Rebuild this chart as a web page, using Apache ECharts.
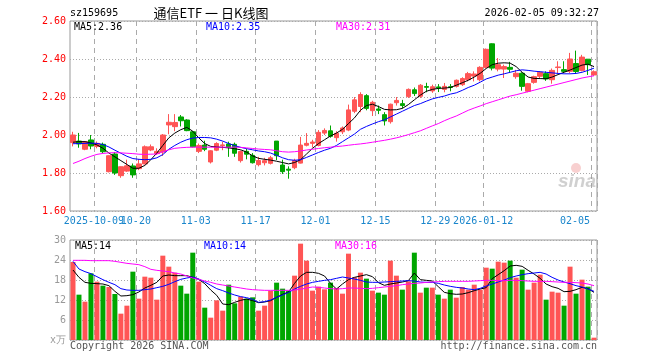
<!DOCTYPE html>
<html>
<head>
<meta charset="utf-8">
<script src="https://cdn.jsdelivr.net/npm/echarts@6/dist/echarts.min.js"></script>
<style>html,body{margin:0;padding:0;background:#fff;}#c{width:660px;height:360px;}</style>
</head>
<body>
<div id="c"></div>
<script>
const dates = ['2025-09-25','2025-09-26','2025-09-29','2025-09-30','2025-10-09','2025-10-10',
'2025-10-13','2025-10-14','2025-10-15','2025-10-16','2025-10-17',
'2025-10-20','2025-10-21','2025-10-22','2025-10-23','2025-10-24',
'2025-10-27','2025-10-28','2025-10-29','2025-10-30','2025-10-31',
'2025-11-03','2025-11-04','2025-11-05','2025-11-06','2025-11-07',
'2025-11-10','2025-11-11','2025-11-12','2025-11-13','2025-11-14',
'2025-11-17','2025-11-18','2025-11-19','2025-11-20','2025-11-21',
'2025-11-24','2025-11-25','2025-11-26','2025-11-27','2025-11-28',
'2025-12-01','2025-12-02','2025-12-03','2025-12-04','2025-12-05',
'2025-12-08','2025-12-09','2025-12-10','2025-12-11','2025-12-12',
'2025-12-15','2025-12-16','2025-12-17','2025-12-18','2025-12-19',
'2025-12-22','2025-12-23','2025-12-24','2025-12-25','2025-12-26',
'2025-12-29','2025-12-30','2025-12-31',
'2026-01-05','2026-01-06','2026-01-07','2026-01-08','2026-01-09',
'2026-01-12','2026-01-13','2026-01-14','2026-01-15','2026-01-16',
'2026-01-19','2026-01-20','2026-01-21','2026-01-22','2026-01-23',
'2026-01-26','2026-01-27','2026-01-28','2026-01-29','2026-01-30',
'2026-02-02','2026-02-03','2026-02-04','2026-02-05'];

const openP = [1.960,1.968,1.925,1.974,1.940,1.951,1.807,1.900,1.786,1.810,
1.837,1.823,1.848,1.921,1.902,1.910,2.053,2.044,2.095,2.079,
2.017,1.914,1.947,1.858,1.920,1.944,1.953,1.951,1.865,1.914,
1.893,1.844,1.854,1.851,1.968,1.842,1.820,1.828,1.852,1.946,
1.956,1.945,2.010,2.022,1.986,2.017,2.026,2.125,2.150,2.207,
2.128,2.137,2.107,2.070,2.170,2.165,2.202,2.238,2.204,2.255,
2.232,2.253,2.240,2.254,2.256,2.265,2.291,2.310,2.291,2.356,
2.480,2.347,2.347,2.356,2.307,2.325,2.230,2.277,2.309,2.323,
2.291,2.355,2.344,2.335,2.376,2.340,2.399,2.316];
const closeP = [2.000,1.953,1.965,1.942,1.956,1.912,1.891,1.800,1.833,1.838,
1.790,1.848,1.938,1.938,1.914,2.000,2.067,2.066,2.075,2.023,
1.938,1.945,1.925,1.917,1.955,1.948,1.935,1.904,1.913,1.899,
1.854,1.866,1.865,1.880,1.891,1.807,1.815,1.866,1.947,1.956,
1.963,2.014,2.024,1.993,2.009,2.037,2.132,2.185,2.213,2.140,
2.172,2.130,2.074,2.162,2.182,2.155,2.240,2.218,2.262,2.251,
2.254,2.248,2.256,2.250,2.288,2.297,2.323,2.321,2.356,2.451,
2.352,2.370,2.360,2.346,2.325,2.256,2.270,2.307,2.330,2.295,
2.340,2.358,2.335,2.400,2.334,2.410,2.370,2.333];
const lowP = [1.940,1.933,1.920,1.925,1.930,1.905,1.803,1.790,1.775,1.806,
1.775,1.815,1.845,1.915,1.895,1.890,2.004,2.020,2.045,2.020,
1.935,1.905,1.915,1.850,1.915,1.920,1.885,1.885,1.855,1.872,
1.850,1.835,1.840,1.845,1.868,1.795,1.770,1.820,1.850,1.940,
1.935,1.940,2.000,1.986,1.965,2.005,2.020,2.115,2.120,2.130,
2.100,2.110,2.050,2.060,2.155,2.140,2.195,2.205,2.195,2.225,
2.222,2.226,2.225,2.230,2.250,2.258,2.282,2.282,2.282,2.350,
2.340,2.335,2.300,2.326,2.296,2.233,2.225,2.270,2.300,2.285,
2.270,2.326,2.326,2.326,2.322,2.335,2.316,2.310];
const highP = [2.017,2.011,1.968,2.000,1.966,1.960,1.893,1.910,1.835,1.870,
1.850,1.874,1.945,1.950,1.930,2.005,2.110,2.110,2.105,2.083,
2.020,1.955,1.970,1.920,1.962,1.965,1.965,1.960,1.918,1.928,
1.905,1.885,1.880,1.890,1.968,1.870,1.835,1.875,1.990,2.010,
1.975,2.026,2.035,2.050,2.020,2.045,2.160,2.200,2.225,2.215,
2.180,2.155,2.120,2.165,2.200,2.185,2.245,2.250,2.268,2.275,
2.265,2.268,2.274,2.268,2.292,2.304,2.332,2.335,2.362,2.455,
2.482,2.405,2.370,2.385,2.343,2.330,2.274,2.312,2.335,2.335,
2.350,2.388,2.388,2.432,2.444,2.422,2.400,2.340];

const ma5 = [1.962,1.965,1.965,1.958,1.948,1.930,1.905,1.885,1.865,1.845,
1.825,1.825,1.840,1.870,1.905,1.945,1.985,2.010,2.028,2.040,
2.020,1.985,1.955,1.940,1.937,1.935,1.932,1.928,1.922,1.910,
1.890,1.877,1.872,1.868,1.862,1.855,1.848,1.855,1.870,1.900,
1.930,1.955,1.975,1.995,2.010,2.030,2.060,2.090,2.130,2.155,
2.162,2.150,2.135,2.132,2.133,2.140,2.160,2.185,2.210,2.230,
2.240,2.245,2.247,2.250,2.262,2.275,2.288,2.305,2.325,2.350,
2.370,2.378,2.380,2.378,2.360,2.330,2.305,2.298,2.297,2.296,
2.305,2.318,2.330,2.342,2.355,2.368,2.373,2.360];
const ma10 = [1.954,1.955,1.956,1.957,1.956,1.950,1.937,1.920,1.904,1.888,
1.876,1.872,1.870,1.872,1.880,1.897,1.925,1.945,1.962,1.975,
1.984,1.987,1.987,1.985,1.978,1.968,1.955,1.944,1.935,1.928,
1.922,1.916,1.912,1.905,1.893,1.880,1.870,1.867,1.870,1.882,
1.895,1.908,1.920,1.930,1.945,1.965,1.985,2.005,2.030,2.045,
2.058,2.070,2.080,2.095,2.110,2.125,2.140,2.155,2.165,2.178,
2.190,2.198,2.205,2.215,2.222,2.235,2.250,2.262,2.278,2.295,
2.305,2.315,2.322,2.330,2.338,2.343,2.340,2.336,2.333,2.330,
2.327,2.324,2.322,2.322,2.324,2.330,2.340,2.352];
const ma30 = [1.850,1.862,1.876,1.888,1.898,1.903,1.906,1.907,1.906,1.904,
1.902,1.899,1.898,1.899,1.900,1.912,1.922,1.930,1.933,1.935,
1.936,1.936,1.936,1.936,1.936,1.936,1.936,1.936,1.935,1.932,
1.929,1.926,1.924,1.922,1.917,1.912,1.910,1.912,1.916,1.921,
1.925,1.929,1.933,1.936,1.939,1.942,1.946,1.950,1.953,1.957,
1.962,1.967,1.972,1.978,1.985,1.993,2.002,2.012,2.022,2.035,
2.048,2.060,2.075,2.088,2.100,2.115,2.130,2.142,2.153,2.165,
2.175,2.185,2.195,2.205,2.212,2.220,2.228,2.236,2.244,2.252,
2.260,2.268,2.276,2.284,2.292,2.300,2.306,2.312];

const volume = [23.4,13.6,11.5,20.0,17.5,16.3,15.9,13.8,7.9,10.3,
20.5,12.4,19.0,18.7,12.1,25.3,22.0,20.2,16.3,13.9,
26.2,17.5,9.7,6.7,11.9,8.8,16.6,11.0,13.0,12.4,
12.8,8.8,10.3,14.8,17.2,15.4,14.8,19.3,28.9,23.8,
14.8,16.0,15.2,17.2,15.6,13.9,25.9,18.8,20.2,18.4,
14.8,14.2,13.6,23.8,19.3,15.1,17.6,26.2,14.2,15.7,
15.7,13.6,12.4,15.1,12.7,15.9,15.1,16.6,15.1,21.7,
21.4,23.5,23.2,23.8,18.7,21.1,15.1,17.2,19.6,12.1,
14.5,14.2,10.3,22.0,13.9,18.1,16.0,0.7];
const vma5 = [21.0,18.8,17.3,17.0,16.9,16.8,16.3,14.6,13.2,13.3,
13.6,14.4,15.6,16.4,17.3,19.2,19.5,19.3,19.3,19.3,
18.8,18.2,16.9,15.0,13.4,10.8,10.6,11.3,11.9,12.3,
11.8,11.2,11.4,11.8,12.8,13.7,14.4,17.0,19.2,20.3,
20.3,20.0,19.2,17.0,15.3,16.8,18.1,18.8,19.2,19.6,
19.0,17.2,16.4,16.8,17.1,17.4,17.8,20.1,18.1,17.9,
17.7,16.0,14.3,13.9,13.7,13.8,14.2,14.8,15.3,15.7,
18.4,19.6,20.8,22.2,22.4,22.1,20.9,19.8,18.5,16.8,
16.0,15.5,14.5,14.6,15.1,15.8,15.4,14.3];
const vma10 = [23.6,21.3,20.5,19.9,19.0,18.1,17.3,16.6,15.4,15.0,
14.9,14.9,15.1,15.3,15.7,16.1,16.7,17.5,18.2,18.6,
18.9,18.3,17.4,16.4,15.4,14.8,14.1,13.5,13.0,12.7,
12.2,11.3,11.5,12.0,12.8,13.5,14.3,15.3,16.1,16.8,
17.3,17.6,17.9,18.1,18.5,18.9,18.6,18.3,17.9,17.4,
17.3,17.3,17.4,17.5,17.6,17.7,17.8,17.7,17.4,17.3,
17.3,17.0,16.5,16.1,15.8,15.6,15.3,15.1,15.5,16.2,
16.8,17.4,18.0,18.7,19.2,19.6,19.9,20.1,20.3,19.8,
18.8,18.0,17.4,16.9,16.3,15.9,15.3,14.6];
const vma30 = [23.9,23.9,23.9,23.8,23.8,23.8,23.8,23.6,23.3,23.0,
22.8,22.6,22.0,21.2,20.9,20.7,20.5,20.1,19.8,19.2,
18.6,18.2,17.7,17.3,16.8,16.5,16.2,15.9,15.6,15.3,
15.1,15.0,14.9,14.9,14.9,14.9,14.9,15.0,15.2,15.6,
15.9,15.8,15.6,15.4,15.3,15.4,15.6,15.6,15.5,15.4,
15.5,15.7,15.9,16.1,16.3,16.6,16.8,17.0,17.1,17.3,
17.4,17.5,17.6,17.6,17.6,17.6,17.6,17.7,17.8,17.9,
17.9,17.8,17.8,17.9,17.9,17.8,17.7,17.6,17.6,17.6,
17.5,17.4,17.3,17.3,17.2,17.1,16.8,16.3];

const tickDates = ['2025-10-09','2025-10-20','2025-11-03','2025-11-17','2025-12-01','2025-12-15','2025-12-29','2026-01-12','2026-02-05'];
const tickLabels = ['2025-10-09','10-20','11-03','11-17','12-01','12-15','12-29','2026-01-12','02-05'];
const priceTicks = [1.6, 2.6, 0.2];
const volTicks = [0, 30, 6];

const UP = '#FF5555', DOWN = '#00A600';
const MONO = '"DejaVu Sans Mono", "Liberation Mono", monospace';
const XLC = '#1A86CC';

const candleData = dates.map((d, i) => [openP[i], closeP[i], lowP[i], highP[i]]);
const volData = volume.map((v, i) => ({
  value: v,
  itemStyle: { color: closeP[i] >= openP[i] ? UP : DOWN }
}));

const isTick = (idx, val) => tickDates.indexOf(val) >= 0;
const isFirstTick = (idx, val) => val === tickDates[0];
const isOtherTick = (idx, val) => tickDates.indexOf(val) > 0;
const vSplit = { show: true, interval: isTick, lineStyle: { color: '#aaa', type: [5, 4], width: 1 } };
const hSplit = { show: true, lineStyle: { color: '#aaa', type: [1, 2], width: 1 } };

const labelFmt = (val) => {
  const k = tickDates.indexOf(val);
  if (k < 0) return '';
  return k === tickDates.length - 1 ? '{b|' + tickLabels[k] + '}' : '{a|' + tickLabels[k] + '}';
};
const richLbl = {
  a: { padding: [0, 6, 0, 0], color: XLC, fontFamily: MONO, fontSize: 10 },
  b: { padding: [0, 38, 0, 0], color: XLC, fontFamily: MONO, fontSize: 10 }
};

const chart = echarts.init(document.getElementById('c'), null, { renderer: 'canvas' });
const lineS = (name, data, color, xi, yi) => ({
  name, type: 'line', data, xAxisIndex: xi, yAxisIndex: yi, symbol: 'none', silent: true,
  lineStyle: { color, width: 1 }, z: 5, animation: false
});

chart.setOption({
  animation: false,
  backgroundColor: '#fff',
  grid: [
    { left: 70, top: 21, width: 527, height: 190, show: true, borderColor: '#999', borderWidth: 1, containLabel: false },
    { left: 70, top: 240, width: 527, height: 100, show: true, borderColor: '#999', borderWidth: 1, containLabel: false }
  ],
  xAxis: [
    { type: 'category', data: dates, gridIndex: 0, boundaryGap: true, position: 'bottom', offset: 0,
      axisLine: { show: false }, axisTick: { show: false },
      splitLine: vSplit,
      axisLabel: {
        interval: isOtherTick, margin: 5, color: XLC, fontFamily: MONO, fontSize: 10,
        hideOverlap: false, formatter: labelFmt, rich: richLbl
      } },
    { type: 'category', data: dates, gridIndex: 1, boundaryGap: true,
      axisLine: { show: false }, axisTick: { show: false }, axisLabel: { show: false },
      splitLine: vSplit },
    { type: 'category', data: dates, gridIndex: 0, boundaryGap: true, position: 'bottom', offset: 0,
      axisLine: { show: false }, axisTick: { show: false }, splitLine: { show: false },
      axisLabel: {
        interval: isFirstTick, margin: 5, color: XLC, fontFamily: MONO, fontSize: 10,
        hideOverlap: false, formatter: labelFmt, rich: richLbl
      } }
  ],
  yAxis: [
    { type: 'value', gridIndex: 0, min: priceTicks[0], max: priceTicks[1], interval: priceTicks[2],
      axisLine: { show: false }, axisTick: { show: false }, splitLine: hSplit,
      axisLabel: { color: '#FF0000', fontFamily: MONO, fontSize: 10, margin: 4, formatter: v => v.toFixed(2) } },
    { type: 'value', gridIndex: 1, min: volTicks[0], max: volTicks[1], interval: volTicks[2],
      axisLine: { show: false }, axisTick: { show: false }, splitLine: hSplit,
      axisLabel: { color: '#999', fontFamily: MONO, fontSize: 10, margin: 4, formatter: v => v === 0 ? 'x万' : String(v) } }
  ],
  series: [
    { type: 'candlestick', data: candleData, xAxisIndex: 0, yAxisIndex: 0, barWidth: 5,
      itemStyle: { color: UP, color0: DOWN, borderColor: UP, borderColor0: DOWN, borderWidth: 1 }, z: 3 },
    lineS('MA5', ma5, '#000000', 0, 0),
    lineS('MA10', ma10, '#0000FF', 0, 0),
    lineS('MA30', ma30, '#FF00FF', 0, 0),
    { type: 'bar', data: volData, xAxisIndex: 1, yAxisIndex: 1, barWidth: 5, z: 3 },
    lineS('VMA5', vma5, '#000000', 1, 1),
    lineS('VMA10', vma10, '#0000FF', 1, 1),
    lineS('VMA30', vma30, '#FF00FF', 1, 1)
  ],
  graphic: [
    { type: 'text', x: 70, y: 13, style: { text: 'sz159695', font: '10px ' + MONO, fill: '#000', align: 'left', verticalAlign: 'middle' } },
    { type: 'text', x: 211, y: 13, style: { text: '通信ETF 一 日K线图', font: '13px "Noto Sans CJK SC"', fill: '#000', align: 'center', verticalAlign: 'middle' } },
    { type: 'text', x: 599, y: 13, style: { text: '2026-02-05 09:32:27', font: '10px ' + MONO, fill: '#000', align: 'right', verticalAlign: 'middle' } },
    { type: 'text', x: 74, y: 27, z: 10, style: { text: 'MA5:' + ma5[ma5.length - 1].toFixed(2), font: '10px ' + MONO, fill: '#000', align: 'left', verticalAlign: 'middle' } },
    { type: 'text', x: 206, y: 27, z: 10, style: { text: 'MA10:2.35', font: '10px ' + MONO, fill: '#0000FF', align: 'left', verticalAlign: 'middle' } },
    { type: 'text', x: 336, y: 27, z: 10, style: { text: 'MA30:2.31', font: '10px ' + MONO, fill: '#FF00FF', align: 'left', verticalAlign: 'middle' } },
    { type: 'text', x: 75, y: 246, z: 10, style: { text: 'MA5:14', font: '10px ' + MONO, fill: '#000', align: 'left', verticalAlign: 'middle' } },
    { type: 'text', x: 204, y: 246, z: 10, style: { text: 'MA10:14', font: '10px ' + MONO, fill: '#0000FF', align: 'left', verticalAlign: 'middle' } },
    { type: 'text', x: 335, y: 246, z: 10, style: { text: 'MA30:16', font: '10px ' + MONO, fill: '#FF00FF', align: 'left', verticalAlign: 'middle' } },
    { type: 'text', x: 70, y: 346, style: { text: 'Copyright 2026 SINA.COM', font: '10px ' + MONO, fill: '#555', align: 'left', verticalAlign: 'middle' } },
    { type: 'text', x: 597, y: 346, style: { text: 'http://finance.sina.com.cn', font: '10px ' + MONO, fill: '#555', align: 'right', verticalAlign: 'middle' } },
    { type: 'text', x: 596, y: 182, z: 1, style: { text: 'sina', font: 'italic bold 19px "Liberation Sans"', fill: 'rgba(150,150,150,0.45)', align: 'right', verticalAlign: 'middle' } },
    { type: 'circle', shape: { cx: 576, cy: 168, r: 5 }, z: 1, style: { fill: 'rgba(235,120,120,0.35)' } }
  ]
});
</script>
</body>
</html>
